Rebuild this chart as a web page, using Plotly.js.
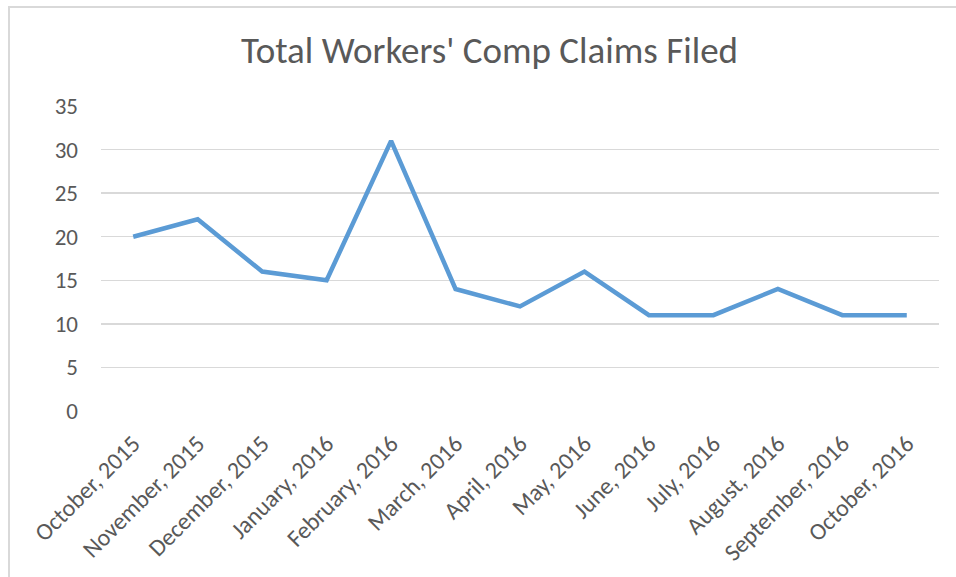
<!DOCTYPE html>
<html>
<head>
<meta charset="utf-8">
<script src="https://cdn.plot.ly/plotly-3.0.1.min.js"></script>
<style>
html,body{margin:0;padding:0;background:#fff;}
#wrap{position:relative;width:956px;height:577px;}
#chart{width:956px;height:577px;}
#frame{position:absolute;left:8px;top:6px;right:-2px;bottom:-2px;border-top:2px solid #d9d9d9;border-left:2px solid #d9d9d9;pointer-events:none;}
</style>
</head>
<body>
<div id="wrap"><div id="chart"></div><div id="frame"></div></div>
<script>
const months = ["October, 2015","November, 2015","December, 2015","January, 2016","February, 2016","March, 2016","April, 2016","May, 2016","June, 2016","July, 2016","August, 2016","September, 2016","October, 2016"];
const claims = [20,22,16,15,31,14,12,16,11,11,14,11,11];
const yTicks = [0,5,10,15,20,25,30,35];

const FONT = 'Carlito, Calibri, Lato, sans-serif';
const trace = {
  x: months, y: claims, type: 'scatter', mode: 'lines',
  line: {color: '#5b9bd5', width: 4.5, shape: 'linear'},
  hoverinfo: 'x+y'
};
const layout = {
  width: 956, height: 577,
  margin: {l: 101, r: 17, t: 106, b: 166},
  paper_bgcolor: '#fff', plot_bgcolor: '#fff',
  font: {family: FONT, color: '#595959', size: 22},
  title: {text: "Total Workers' Comp Claims Filed", x: 0.512, xanchor: 'center', y: 0.913, yanchor: 'middle',
          font: {size: 37, color: '#595959', family: FONT}},
  xaxis: {type: 'category', range: [-0.5, 12.5], tickangle: -45, showgrid: false, zeroline: false, showline: false,
          ticks: '', ticklabelstandoff: 13, tickfont: {size: 24, color: '#595959', family: FONT}, fixedrange: true},
  yaxis: {range: [0, 35], tickvals: yTicks, ticktext: yTicks.map(String), showgrid: true, gridcolor: '#d9d9d9', gridwidth: 1.5,
          zeroline: false, showline: false, ticks: '', ticklabelstandoff: 22, tickfont: {size: 23, color: '#595959', family: FONT}, fixedrange: true},
  showlegend: false
};
Plotly.newPlot('chart', [trace], layout, {displayModeBar: false, staticPlot: true});
</script>
</body>
</html>
